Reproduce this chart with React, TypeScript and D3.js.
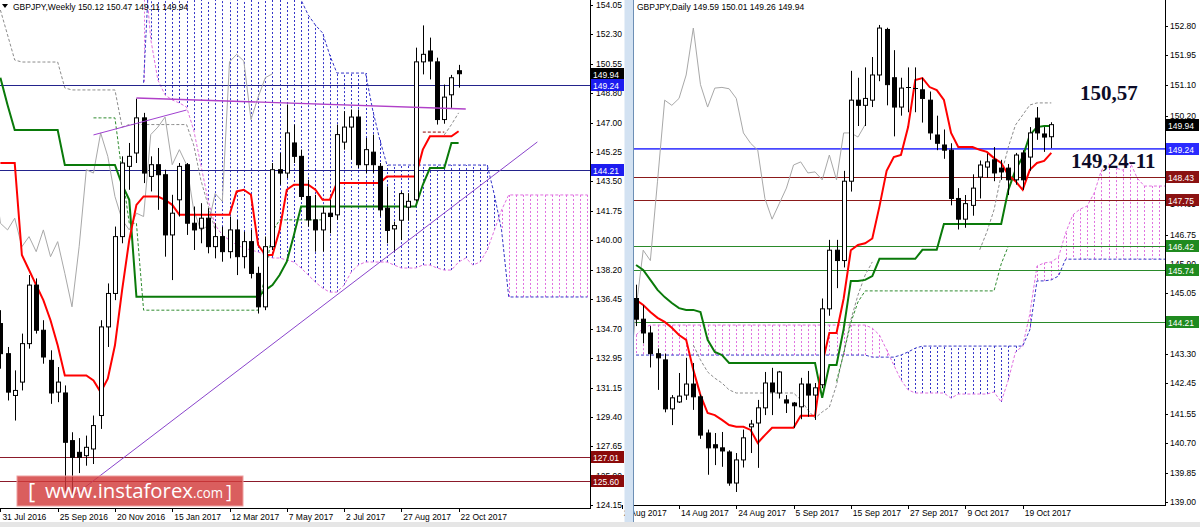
import React from 'react';
import * as d3 from 'd3';

// ---------------- WEEKLY (left) ----------------
const weeklyTitle = 'GBPJPY,Weekly  150.12 150.47 149.11 149.94';
const wTickIdx = [0, 8, 16, 24, 32, 40, 48, 56, 64];
const wTickLabels = ['31 Jul 2016', '25 Sep 2016', '20 Nov 2016', '15 Jan 2017', '12 Mar 2017', '7 May 2017', '2 Jul 2017', '27 Aug 2017', '22 Oct 2017'];
const wPriceTicks = [154.05, 152.30, 150.55, 148.80, 147.00, 145.25, 143.50, 141.75, 140.00, 138.20, 136.45, 134.70, 132.95, 131.15, 129.40, 127.65, 125.90, 124.15];

const wOpen = [135.0, 133.2, 130.7, 131.5, 133.8, 137.3, 134.6, 132.8, 130.9, 130.85, 128.0, 127.3, 127.1, 127.5, 129.5, 134.8, 136.8, 140.2, 144.4, 145.2, 147.3, 143.8, 144.5, 143.9, 140.3, 142.4, 144.5, 141.0, 140.7, 141.3, 139.6, 140.2, 139.3, 140.6, 139.0, 139.9, 138.0, 136.0, 139.6, 144.2, 144.0, 145.8, 145.0, 142.6, 141.2, 140.6, 141.6, 141.5, 145.85, 146.75, 147.35, 144.5, 145.25, 144.4, 141.9, 140.66, 141.18, 141.96, 142.4, 150.65, 151.3, 150.65, 147.2, 148.68, 150.12];
const wHigh = [135.8, 133.6, 132.2, 134.4, 137.9, 137.7, 135.2, 133.4, 132.4, 131.3, 128.5, 128.15, 128.3, 129.5, 135.2, 137.4, 140.8, 145.0, 145.8, 148.45, 147.6, 145.0, 145.5, 144.2, 142.7, 144.6, 144.6, 142.0, 142.2, 141.9, 141.0, 140.8, 141.4, 141.2, 140.5, 140.6, 138.4, 140.2, 144.6, 145.2, 148.1, 146.9, 145.4, 143.6, 142.7, 142.0, 142.4, 146.9, 147.7, 147.8, 147.8, 146.1, 146.3, 144.6, 143.2, 141.1, 142.89, 142.8, 151.5, 152.83, 152.1, 150.9, 149.29, 149.87, 150.47];
const wLow = [132.3, 130.4, 129.2, 131.0, 133.5, 134.4, 132.6, 130.2, 130.3, 125.0, 124.6, 126.06, 126.5, 126.6, 128.7, 133.6, 136.4, 139.8, 143.0, 144.6, 143.4, 142.9, 141.8, 139.0, 137.6, 141.4, 140.3, 139.4, 139.8, 139.2, 138.9, 138.7, 138.9, 137.9, 138.3, 137.7, 135.6, 135.8, 139.4, 143.3, 143.7, 144.6, 142.4, 140.8, 139.3, 139.3, 140.4, 141.2, 145.4, 144.8, 144.3, 144.0, 144.0, 141.4, 139.8, 139.29, 139.99, 141.15, 142.3, 149.9, 149.6, 146.9, 146.95, 147.9, 149.11];
const wClose = [133.2, 130.9, 131.0, 133.8, 137.3, 134.6, 133.0, 130.85, 131.5, 127.9, 127.0, 127.0, 127.6, 128.9, 134.8, 136.8, 140.2, 144.6, 145.0, 147.3, 144.0, 144.5, 143.9, 140.3, 141.6, 144.4, 141.0, 140.6, 141.3, 139.6, 140.2, 139.3, 140.6, 139.0, 139.9, 138.0, 136.0, 139.6, 144.2, 144.0, 146.4, 145.0, 142.6, 141.2, 140.6, 141.6, 141.4, 146.3, 146.75, 147.35, 144.5, 145.4, 144.5, 141.8, 140.57, 140.86, 142.77, 142.31, 150.65, 151.1, 150.7, 147.2, 148.54, 149.7, 149.94];

const wTenkan = [144.6, 144.6, 144.6, 139.1, 138.2, 137.3, 136.4, 135.2, 133.7, 131.9, 131.9, 131.9, 131.9, 131.6, 130.9, 131.7, 133.7, 137.0, 140.0, 142.1, 142.6, 142.6, 142.6, 142.4, 142.1, 141.5, 141.5, 141.5, 141.5, 141.5, 141.5, 141.5, 141.5, 142.9, 143.0, 142.7, 139.7, 139.1, 139.1, 140.6, 143.0, 143.3, 143.3, 143.3, 143.0, 142.4, 142.4, 143.4, 143.4, 143.4, 143.4, 143.4, 143.4, 143.4, 143.8, 143.8, 143.8, 143.8, 143.8, 145.4, 146.2, 146.2, 146.2, 146.2, 146.5];
const wKijun = [149.7, 148.07, 146.57, 146.57, 146.57, 146.57, 146.57, 146.57, 146.57, 144.48, 144.48, 144.48, 144.48, 144.48, 144.48, 144.48, 144.48, 143.3, 142.4, 136.6, 136.6, 136.6, 136.6, 136.6, 136.6, 136.6, 136.6, 136.6, 136.6, 136.6, 136.6, 136.6, 136.6, 136.6, 136.6, 136.6, 136.6, 137.0, 137.3, 137.9, 138.7, 140.3, 142.0, 142.0, 142.0, 142.0, 142.0, 142.0, 142.0, 142.0, 142.0, 142.0, 142.0, 142.0, 142.0, 142.0, 142.0, 142.0, 142.0, 143.3, 144.3, 144.3, 144.3, 145.8, 145.8];

const wCloudStart = 20;
const wSpanA = [157.0, 152.0, 149.56, 148.67, 148.37, 148.19, 147.95, 146.57, 144.48, 142.39, 140.89, 140.29, 139.99, 139.70, 139.52, 139.40, 139.28, 139.10, 138.92, 138.92, 138.80, 138.68, 138.32, 137.90, 137.48, 137.12, 136.88, 136.88, 137.30, 138.08, 138.50, 138.68, 138.68, 138.68, 138.68, 138.50, 138.32, 138.32, 138.32, 138.50, 138.50, 138.32, 138.20, 138.20, 138.68, 138.92, 138.50, 138.68, 139.40, 140.59, 141.79, 142.69, 142.69, 142.69, 142.69, 142.69, 142.69, 142.69, 142.69, 142.69, 142.69, 142.69, 142.69];
const wSpanB = [149.4, 158, 158, 158, 158, 158, 158, 158, 158, 158, 158, 158, 158, 158, 158, 158, 158, 158, 158, 158, 158, 158, 154.35, 153.45, 152.85, 152.38, 151.06, 149.98, 149.98, 149.98, 149.98, 149.98, 147.77, 145.98, 144.48, 144.48, 144.48, 144.48, 144.48, 144.48, 144.48, 144.48, 144.48, 144.48, 144.48, 144.48, 144.48, 144.48, 144.48, 142.69, 140.59, 136.59, 136.59, 136.59, 136.59, 136.59, 136.59, 136.59, 136.59, 136.59, 136.59, 136.59, 136.59];

const wDotGrayStart = 0;
const wDotGray = [153.75, 152.26, 150.76, 150.64, 150.64, 150.64, 150.64, 150.64, 150.64, 149.09, 148.97, 148.97, 148.97, 148.97, 148.97, 148.97, 148.97, 146.75, 146.9, 146.9, 146.9, 146.9, 146.9, 146.9, 146.9, 146.9, 146.9, 145.68, 143.58, 142.09, 140.60];
const wDotGreenStart = 13;
const wDotGreen = [147.3, 147.3, 147.3, 147.3, 144.0, 141.0, 141.0, 135.8, 135.8, 135.8, 135.8, 135.8, 135.8, 135.8, 135.8, 135.8, 135.8, 135.8, 135.8, 135.8, 135.8, 135.8, 135.8, 135.8, 138.0, 140.5, 141.2, 141.2, 141.2, 141.2, 141.2, 141.2, 141.2];
const wDotGray2Start = 62;
const wDotGray2 = [146.28, 146.9, 147.6];
const wDotRedStart = 59;
const wDotRed = [146.45, 146.45, 146.45, 146.45];

const wTrendUp = [[10, 124.62], [75, 145.86]];
const wTrendFlat = [[19, 148.49], [65, 147.83]];
const wTrendShort = [[13, 146.28], [26, 147.77]];

const wBlueLevels = [149.24, 144.21];
const wRedLevels = [127.01, 125.60];
const wLast = 149.94;

// ---------------- DAILY (right) ----------------
const dailyTitle = 'GBPJPY,Daily  149.59 150.01 149.26 149.94';
const dTickIdx = [-8, 0, 8, 16, 24, 32, 40, 48];
const dTickLabels = ['2 Aug 2017', '14 Aug 2017', '24 Aug 2017', '5 Sep 2017', '15 Sep 2017', '27 Sep 2017', '9 Oct 2017', '19 Oct 2017'];
const dPriceTicks = [152.80, 151.95, 151.10, 150.20, 147.65, 146.75, 145.90, 145.05, 143.30, 142.45, 141.55, 140.70, 139.85, 139.00];

const dStart = -6;
const dOpen = [144.9, 144.3, 143.9, 143.3, 143.12, 141.70, 141.90, 142.10, 142.42, 142.05, 141.00, 140.66, 140.57, 140.45, 139.55, 140.22, 141.18, 141.29, 141.73, 142.45, 142.16, 141.96, 141.87, 141.76, 142.42, 142.10, 142.40, 144.60, 146.30, 146.00, 148.30, 150.65, 150.50, 150.65, 151.38, 152.70, 151.30, 150.45, 151.00, 151.00, 150.95, 150.65, 149.64, 149.35, 149.20, 147.80, 147.20, 147.60, 148.42, 148.71, 148.92, 148.68, 148.68, 148.34, 149.12, 149.00, 150.13, 149.67, 149.59];
const dHigh = [145.3, 144.7, 144.1, 143.45, 143.3, 142.1, 142.74, 143.18, 143.03, 142.12, 141.10, 141.00, 141.03, 140.50, 140.42, 141.10, 141.38, 141.96, 142.77, 142.89, 142.80, 142.10, 141.90, 142.60, 142.80, 142.45, 144.90, 146.60, 146.60, 148.60, 151.50, 151.30, 151.60, 151.90, 152.83, 152.75, 152.10, 151.30, 151.60, 151.60, 151.30, 150.90, 150.20, 149.80, 149.40, 148.10, 147.90, 148.50, 148.90, 149.10, 149.29, 148.92, 148.80, 149.12, 149.20, 149.87, 150.45, 149.87, 150.01];
const dLow = [144.1, 143.6, 142.9, 142.25, 141.6, 141.23, 141.87, 141.96, 141.67, 140.83, 139.79, 140.07, 140.02, 139.47, 139.29, 140.00, 140.42, 139.99, 141.52, 141.52, 142.00, 141.58, 141.15, 141.40, 141.47, 141.38, 142.30, 144.40, 145.20, 145.80, 148.00, 149.90, 149.90, 150.45, 151.20, 150.50, 149.60, 150.20, 150.30, 150.30, 150.00, 149.50, 149.20, 148.95, 147.60, 146.90, 146.95, 147.30, 147.80, 148.40, 148.30, 148.34, 147.90, 148.20, 148.05, 148.60, 149.50, 149.15, 149.26];
const dClose = [144.3, 143.9, 143.3, 143.18, 141.7, 142.02, 142.07, 142.42, 142.05, 140.94, 140.57, 140.57, 140.48, 139.55, 140.22, 140.86, 141.26, 141.73, 142.45, 142.19, 142.77, 141.87, 141.79, 142.42, 142.10, 142.31, 144.60, 146.30, 146.00, 148.30, 150.65, 150.50, 150.70, 151.38, 152.74, 151.10, 150.45, 151.00, 151.02, 150.98, 150.70, 149.70, 149.40, 149.20, 147.80, 147.20, 147.65, 148.10, 148.77, 148.86, 148.54, 148.57, 148.34, 149.06, 148.34, 149.70, 149.70, 149.58, 149.94];

const dTenkan = [144.86, 144.71, 144.51, 144.34, 144.22, 144.05, 143.84, 143.70, 142.83, 142.10, 141.58, 141.52, 141.38, 141.23, 141.18, 141.18, 141.09, 140.71, 140.94, 141.15, 141.15, 141.15, 141.15, 141.50, 141.50, 141.50, 143.0, 143.9, 143.9, 144.9, 146.3, 146.45, 146.5, 146.64, 147.57, 148.6, 149.0, 149.06, 149.87, 151.23, 151.29, 151.03, 150.94, 150.66, 149.70, 149.29, 149.29, 149.29, 149.21, 149.15, 148.97, 148.83, 148.48, 148.30, 148.05, 148.63, 148.83, 148.89, 149.12];
const dKijun = [145.87, 145.73, 145.44, 145.15, 144.94, 144.77, 144.62, 144.57, 144.57, 144.51, 143.70, 143.35, 143.26, 143.03, 143.03, 143.03, 143.03, 143.03, 143.03, 143.03, 143.03, 143.03, 143.03, 143.03, 143.03, 143.03, 142.02, 142.97, 142.97, 144.02, 145.41, 145.41, 145.44, 145.55, 146.05, 146.05, 146.05, 146.05, 146.05, 146.05, 146.31, 146.31, 146.31, 147.06, 147.06, 147.06, 147.06, 147.06, 147.06, 147.06, 147.06, 147.06, 148.05, 148.63, 149.00, 149.64, 149.87, 149.90, 149.90];

const dSpanA = [143.84, 144.04, 144.13, 144.13, 144.13, 144.13, 144.13, 144.13, 144.13, 144.13, 144.13, 144.13, 144.13, 144.13, 144.13, 144.13, 144.13, 144.13, 144.13, 144.13, 144.13, 144.13, 144.13, 144.13, 144.13, 144.13, 144.13, 144.13, 144.13, 144.13, 144.13, 144.13, 144.13, 144.04, 143.84, 143.41, 142.97, 142.54, 142.25, 142.16, 142.16, 142.16, 142.16, 142.16, 142.01, 142.13, 142.13, 142.13, 142.13, 142.13, 142.19, 141.90, 142.54, 143.35, 143.52, 144.45, 145.84, 145.93, 145.96, 146.10, 146.80, 147.32, 147.49, 147.58, 147.96, 148.62, 148.80, 148.68, 148.62, 148.86, 148.39, 148.16, 148.16, 148.16, 148.16, 148.16];
const dSpanB = [143.26, 143.26, 143.26, 143.26, 143.26, 143.26, 143.26, 143.26, 143.26, 143.26, 143.26, 143.26, 143.26, 143.26, 143.26, 143.26, 143.26, 143.26, 143.26, 143.26, 143.26, 143.26, 143.26, 143.26, 143.26, 143.26, 143.26, 143.26, 143.26, 143.26, 143.26, 143.26, 143.26, 143.20, 143.20, 143.20, 143.20, 143.26, 143.35, 143.46, 143.52, 143.52, 143.52, 143.52, 143.52, 143.52, 143.52, 143.52, 143.52, 143.52, 143.52, 143.52, 143.52, 143.52, 143.52, 143.99, 145.41, 145.41, 145.44, 145.55, 146.04, 146.04, 146.04, 146.04, 146.04, 146.04, 146.04, 146.04, 146.04, 146.04, 146.04, 146.04, 146.04, 146.04, 146.04, 146.04];

const dDotGrayAStart = 2;
const dDotGrayA = [143.55, 143.12, 142.77, 142.59, 142.45, 142.25, 142.16, 142.16, 142.16, 142.16, 142.16, 142.16, 142.16, 142.16, 142.16, 141.96, 141.67, 141.43, 141.61, 141.75, 142.39, 143.32, 144.28, 145.0, 145.58, 145.96];
const dDotGrayBStart = 42;
const dDotGrayB = [146.31, 146.83, 147.47, 148.48, 149.29, 149.93, 150.22, 150.51, 150.57, 150.57, 150.57];
const dDotGreenStart = 22;
const dDotGreen = [142.5, 143.3, 144.2, 144.8, 145.12, 145.12, 145.12, 145.12, 145.12, 145.12, 145.12, 145.12, 145.12, 145.12, 145.12, 145.12, 145.12, 145.12, 145.12, 145.12, 145.12, 145.12, 145.12, 145.9, 146.42];

const dBlueLevels = [149.24];
const dRedLevels = [148.43, 147.75];
const dGreenLevels = [146.42, 145.74, 144.21];
const dLast = 149.94;

const bigLabels = ['150,57', '149,24-11'];
const logoMain = 'www.instaforex';
const logoTail = '.com';

// ---------------- drawing helpers ----------------
const FONT = "'Liberation Sans', Arial, Helvetica, sans-serif";
const PINK = '#e070e0';
const BLUE = '#3434c8';

type Sc = (v: number) => number;

function candles(o: number[], h: number[], l: number[], c: number[], start: number, x: Sc, y: Sc, key: string) {
  return o.map((op, k) => {
    const cx = Math.round(x(k + start)) + 0.5;
    const cl = c[k];
    const top = y(Math.max(op, cl));
    const bot = y(Math.min(op, cl));
    const hh = bot - top;
    return (
      <g key={key + k}>
        <line x1={cx} x2={cx} y1={y(h[k])} y2={y(l[k])} stroke="#000" strokeWidth={1} />
        {hh < 1.5 ? (
          <line x1={cx - 2.5} x2={cx + 2.5} y1={Math.round(top) + 0.5} y2={Math.round(top) + 0.5} stroke="#000" strokeWidth={1} />
        ) : (
          <rect x={cx - 2} y={top} width={4} height={hh} fill={cl >= op ? '#fff' : '#000'} stroke="#000" strokeWidth={1} />
        )}
      </g>
    );
  });
}

function seriesPath(vals: number[], start: number, x: Sc, y: Sc, shift = 0) {
  return d3.line<number>().x((_, k) => x(k + start + shift)).y((v) => y(v))(vals) || '';
}

function hatch(A: number[], B: number[], start: number, x: Sc, y: Sc, key: string) {
  return A.map((a, k) => {
    const b = B[k];
    const xx = Math.round(x(k + start)) + 0.5;
    return <line key={key + k} x1={xx} x2={xx} y1={y(a)} y2={y(b)} stroke={a >= b ? PINK : BLUE} strokeWidth={1} strokeDasharray="2 2" />;
  });
}

function levelBox(xLeft: number, yy: number, text: string, bg: string, key: string) {
  return (
    <g key={key}>
      <rect x={xLeft} y={Math.round(yy) - 6} width={33} height={12} fill={bg} />
      <text x={xLeft + 2} y={Math.round(yy) + 3.5} fill="#fff" fontFamily={FONT} fontSize={8.5}>{text}</text>
    </g>
  );
}

export default function App() {
  const xW = d3.scaleLinear().domain([0, 64]).range([0.4, 458.6]);
  const yW = d3.scaleLinear().domain([124.15, 154.05]).range([505, 5]);
  const xD = d3.scaleLinear().domain([0, 52]).range([679, 1051.3]);
  const yD = d3.scaleLinear().domain([139.0, 152.8]).range([502, 26]);

  const trend = (pts: number[][]) => d3.line<number[]>().x((p) => xW(p[0])).y((p) => yW(p[1]))(pts) || '';

  return (
    <svg width={1200} height={527} viewBox="0 0 1200 527" style={{ position: 'fixed', left: 0, top: 0, display: 'block' }}>
      <defs>
        <clipPath id="clipW"><rect x={0} y={0} width={590} height={508} /></clipPath>
        <clipPath id="clipD"><rect x={634} y={0} width={531} height={505} /></clipPath>
      </defs>
      <rect x={0} y={0} width={1200} height={527} fill="#fff" />

      {/* ================= WEEKLY ================= */}
      <g clipPath="url(#clipW)">
        {hatch(wSpanA, wSpanB, wCloudStart, xW, yW, 'wh')}
        <path d={seriesPath(wSpanA, wCloudStart, xW, yW)} fill="none" stroke={PINK} strokeWidth={1} strokeDasharray="3 2" />
        <path d={seriesPath(wSpanB, wCloudStart, xW, yW)} fill="none" stroke={BLUE} strokeWidth={1} strokeDasharray="3 2" />
        {wBlueLevels.map((v, k) => (
          <line key={'wbl' + k} x1={0} x2={590} y1={Math.round(yW(v)) + 0.5} y2={Math.round(yW(v)) + 0.5} stroke="#23238c" strokeWidth={1} />
        ))}
        {wRedLevels.map((v, k) => (
          <line key={'wrl' + k} x1={0} x2={590} y1={Math.round(yW(v)) + 0.5} y2={Math.round(yW(v)) + 0.5} stroke="#8b1a2a" strokeWidth={1} />
        ))}
        <path d={seriesPath(wClose, 0, xW, yW, -26)} fill="none" stroke="#a8a8a8" strokeWidth={1} />
        <path d={seriesPath(wDotGray, wDotGrayStart, xW, yW)} fill="none" stroke="#8c8c8c" strokeWidth={1} strokeDasharray="3 2" />
        <path d={seriesPath(wDotGreen, wDotGreenStart, xW, yW)} fill="none" stroke="#2e8b2e" strokeWidth={1} strokeDasharray="3 2" />
        <path d={seriesPath(wDotGray2, wDotGray2Start, xW, yW)} fill="none" stroke="#8c8c8c" strokeWidth={1} strokeDasharray="3 2" />
        <path d={seriesPath(wDotRed, wDotRedStart, xW, yW)} fill="none" stroke="#8b0000" strokeWidth={1} strokeDasharray="3 2" />
        <path d={seriesPath(wKijun, 0, xW, yW)} fill="none" stroke="#0a7a0a" strokeWidth={2} />
        <path d={seriesPath(wTenkan, 0, xW, yW)} fill="none" stroke="#ff0000" strokeWidth={2} />
        {candles(wOpen, wHigh, wLow, wClose, 0, xW, yW, 'wc')}
        <path d={trend(wTrendUp)} fill="none" stroke="#8a44cc" strokeWidth={1} />
        <path d={trend(wTrendFlat)} fill="none" stroke="#b040c8" strokeWidth={1.3} />
        <path d={trend(wTrendShort)} fill="none" stroke="#a040d0" strokeWidth={1} />
      </g>
      {/* weekly axes */}
      <line x1={590.5} x2={590.5} y1={0} y2={508} stroke="#000" strokeWidth={1} />
      <line x1={0} x2={591} y1={508.5} y2={508.5} stroke="#000" strokeWidth={1} />
      {wPriceTicks.map((v, k) => (
        <g key={'wpt' + k}>
          <line x1={590} x2={593} y1={Math.round(yW(v)) + 0.5} y2={Math.round(yW(v)) + 0.5} stroke="#000" />
          <text x={596} y={yW(v) + 3} fontFamily={FONT} fontSize={8.5} fill="#000">{v.toFixed(2)}</text>
        </g>
      ))}
      {wTickIdx.map((i, k) => (
        <g key={'wxt' + k}>
          <line x1={Math.round(xW(i)) + 0.5} x2={Math.round(xW(i)) + 0.5} y1={508} y2={512} stroke="#000" />
          <text x={xW(i) + 2} y={520} fontFamily={FONT} fontSize={8.5} fill="#000">{wTickLabels[k]}</text>
        </g>
      ))}
      {levelBox(591, yW(wLast), wLast.toFixed(2), '#000', 'wlast')}
      {wBlueLevels.map((v, k) => levelBox(591, yW(v), v.toFixed(2), '#1c1cf0', 'wbb' + k))}
      {wRedLevels.map((v, k) => levelBox(591, yW(v), v.toFixed(2), '#8b0a0a', 'wrb' + k))}
      <path d="M2,4 L8,4 L5,8 Z" fill="#000" />
      <text x={13} y={10} fontFamily={FONT} fontSize={8.5} fill="#000">{weeklyTitle}</text>

      {/* logo */}
      <g>
        <rect x={17} y={476} width={226} height={30} fill="#d23a3a" fillOpacity={0.82} stroke="#eea0a0" strokeWidth={1} />
        <text x={28} y={499} fill="#fff" fontFamily="'Open Sans', 'Liberation Sans', sans-serif" fontSize={22}>[</text>
        <text x={45} y={498} fill="#fff" fontFamily="'Open Sans', 'Liberation Sans', sans-serif" fontSize={20} textLength={148} lengthAdjust="spacingAndGlyphs">{logoMain}</text>
        <text x={193} y={498} fill="#fff" fontFamily="'Open Sans', 'Liberation Sans', sans-serif" fontSize={14} textLength={30} lengthAdjust="spacingAndGlyphs">{logoTail}</text>
        <text x={226} y={498} fill="#fff" fontFamily="'Open Sans', 'Liberation Sans', sans-serif" fontSize={18}>]</text>
      </g>

      {/* ================= DAILY ================= */}
      <g clipPath="url(#clipD)">
        {hatch(dSpanA, dSpanB, dStart, xD, yD, 'dh')}
        <path d={seriesPath(dSpanA, dStart, xD, yD)} fill="none" stroke={PINK} strokeWidth={1} strokeDasharray="3 2" />
        <path d={seriesPath(dSpanB, dStart, xD, yD)} fill="none" stroke={BLUE} strokeWidth={1} strokeDasharray="3 2" />
        {dGreenLevels.map((v, k) => (
          <line key={'dgl' + k} x1={634} x2={1165} y1={Math.round(yD(v)) + 0.5} y2={Math.round(yD(v)) + 0.5} stroke="#2a8a2a" strokeWidth={1} />
        ))}
        {dRedLevels.map((v, k) => (
          <line key={'drl' + k} x1={634} x2={1165} y1={Math.round(yD(v)) + 0.5} y2={Math.round(yD(v)) + 0.5} stroke="#8b1a1a" strokeWidth={1} />
        ))}
        {dBlueLevels.map((v, k) => (
          <line key={'dbl' + k} x1={634} x2={1165} y1={yD(v)} y2={yD(v)} stroke="#4848ff" strokeWidth={1.8} />
        ))}
        <path d={seriesPath(dClose, dStart, xD, yD, -26)} fill="none" stroke="#a8a8a8" strokeWidth={1} />
        <path d={seriesPath(dDotGrayA, dDotGrayAStart, xD, yD)} fill="none" stroke="#8c8c8c" strokeWidth={1} strokeDasharray="3 2" />
        <path d={seriesPath(dDotGrayB, dDotGrayBStart, xD, yD)} fill="none" stroke="#8c8c8c" strokeWidth={1} strokeDasharray="3 2" />
        <path d={seriesPath(dDotGreen, dDotGreenStart, xD, yD)} fill="none" stroke="#2e8b2e" strokeWidth={1} strokeDasharray="3 2" />
        <path d={seriesPath(dKijun, dStart, xD, yD)} fill="none" stroke="#0a7a0a" strokeWidth={2} />
        <path d={seriesPath(dTenkan, dStart, xD, yD)} fill="none" stroke="#ff0000" strokeWidth={2} />
        {candles(dOpen, dHigh, dLow, dClose, dStart, xD, yD, 'dc')}
      </g>
      <line x1={1165.5} x2={1165.5} y1={0} y2={505} stroke="#000" strokeWidth={1} />
      <line x1={634} x2={1166} y1={505.5} y2={505.5} stroke="#000" strokeWidth={1} />
      {dPriceTicks.map((v, k) => (
        <g key={'dpt' + k}>
          <line x1={1165} x2={1168} y1={Math.round(yD(v)) + 0.5} y2={Math.round(yD(v)) + 0.5} stroke="#000" />
          <text x={1170} y={yD(v) + 3} fontFamily={FONT} fontSize={8.5} fill="#000">{v.toFixed(2)}</text>
        </g>
      ))}
      {dTickIdx.map((d, k) => (
        <g key={'dxt' + k}>
          <line x1={Math.round(xD(d)) + 0.5} x2={Math.round(xD(d)) + 0.5} y1={505} y2={509} stroke="#000" />
          <text x={xD(d) + 2} y={516} fontFamily={FONT} fontSize={8.5} fill="#000">{dTickLabels[k]}</text>
        </g>
      ))}
      {levelBox(1166, yD(dLast), dLast.toFixed(2), '#000', 'dlast')}
      {dBlueLevels.map((v, k) => levelBox(1166, yD(v), v.toFixed(2), '#2a2aff', 'dbb' + k))}
      {dRedLevels.map((v, k) => levelBox(1166, yD(v), v.toFixed(2), '#8b1212', 'drb' + k))}
      {dGreenLevels.map((v, k) => levelBox(1166, yD(v), v.toFixed(2), '#1f8a1f', 'dgb' + k))}
      <text x={637} y={10} fontFamily={FONT} fontSize={8.5} fill="#000">{dailyTitle}</text>

      <text x={1080} y={100} fontFamily="'Liberation Serif', 'Times New Roman', serif" fontWeight="bold" fontSize={21} fill="#0c0c28">{bigLabels[0]}</text>
      <text x={1071} y={168} fontFamily="'Liberation Serif', 'Times New Roman', serif" fontWeight="bold" fontSize={21} fill="#0c0c28">{bigLabels[1]}</text>

      {/* separator & bottom strip */}
      <rect x={624.5} y={0} width={9} height={527} fill="#d3e2f2" />
      <line x1={633.5} x2={633.5} y1={0} y2={527} stroke="#6d8fb5" strokeWidth={1} />
      <rect x={0} y={522} width={1200} height={5} fill="#e6e6e6" />
    </svg>
  );
}
